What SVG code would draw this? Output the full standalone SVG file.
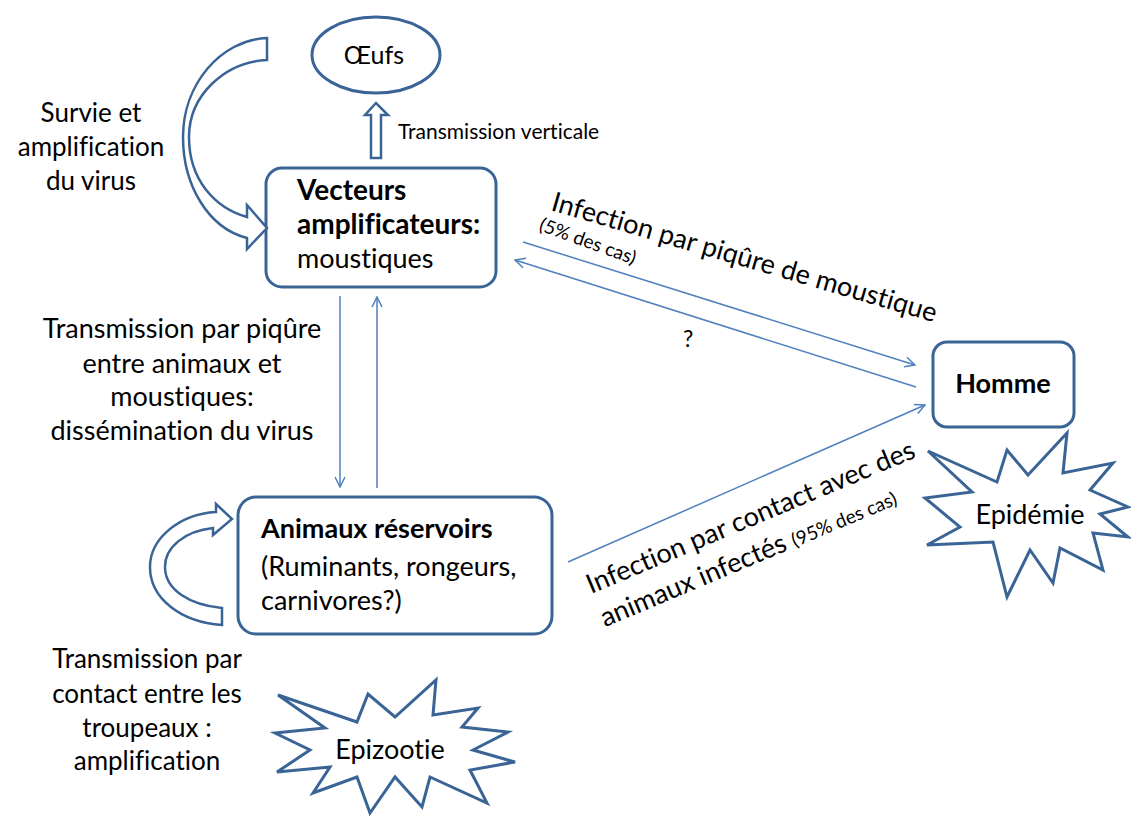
<svg xmlns="http://www.w3.org/2000/svg" width="1131" height="816" viewBox="0 0 1131 816">
<defs>
<style>
text{font-family:Lato,"Open Sans","Liberation Sans",sans-serif;fill:#000;font-variant-ligatures:none}
.t{font-size:27px}
.b{font-size:27px;font-weight:bold}
.s{font-size:19px}
.node{fill:#fff;stroke:#3a6496;stroke-width:3}
.blk{fill:#fff;stroke:#3a6496;stroke-width:2.5;stroke-linejoin:miter}
.con{fill:none;stroke:#4f81bd;stroke-width:1.5}
</style>
<marker id="ah" viewBox="0 0 12 12" refX="11" refY="6" markerWidth="12" markerHeight="12" markerUnits="userSpaceOnUse" orient="auto">
<path d="M1,1 L11,6 L1,11" fill="none" stroke="#4f81bd" stroke-width="1.5"/>
</marker>
</defs>
<rect width="1131" height="816" fill="#fff"/>

<g id="oeufs">
<ellipse class="node" cx="376" cy="55" rx="64" ry="38"/>
<text x="374" y="64" text-anchor="middle" style="font-size:25px">Œufs</text>
</g>

<g id="vecteurs">
<rect class="node" x="266" y="168" width="230" height="119" rx="16"/>
<text class="b" x="297" y="200" style="font-size:28px">Vecteurs</text>
<text class="b" x="297" y="234" style="font-size:28px">amplificateurs:</text>
<text class="t" x="297" y="268">moustiques</text>
</g>

<g id="animaux">
<rect class="node" x="238" y="497" width="314" height="137" rx="18"/>
<text class="b" x="261" y="538">Animaux réservoirs</text>
<text class="t" x="261" y="576">(Ruminants, rongeurs,</text>
<text class="t" x="261" y="610">carnivores?)</text>
</g>

<g id="homme">
<rect class="node" x="933" y="342" width="141" height="85" rx="14"/>
<text class="b" x="1003" y="393" text-anchor="middle">Homme</text>
</g>

<g id="epidemie">
<polygon class="node" points="928,451 997,482 1007,450 1028,475 1067,433 1063,473 1113,463 1090,490 1128,507 1100,514 1128,537 1093,533 1103,570 1060,548 1053,583 1030,550 1007,597 993,542 927,545 960,527 925,498 972,492"/>
<text class="t" x="1030" y="524" text-anchor="middle">Epidémie</text>
</g>

<g id="epizootie">
<polygon class="node" points="278,695 357,722 368,694 395,717 436,680 433,715 478,708 462,727 508,732 473,750 515,762 470,770 487,803 430,777 422,807 395,777 370,813 357,777 313,793 330,767 277,772 310,750 275,733 325,728"/>
<text class="t" x="390" y="759" text-anchor="middle">Epizootie</text>
</g>

<g id="boucle-vecteurs">
<path class="blk" d="M267,38 L267,60 C225,62 189,95 189,137 C189,180 215,208 247,217 L247,205 L267,228 L247,249 L247,238 C208,228 183,185 183,137 C183,85 220,40 267,38 Z"/>
</g>

<g id="boucle-animaux">
<path class="blk" d="M222,608 L222,625 C180,622 150,598 150,567 C150,538 180,514 216,512 L216,504 L232,519 L213,535 L213,528 C185,531 165,547 165,567 C165,590 190,605 222,608 Z"/>
</g>

<g id="fleche-verticale">
<path class="blk" d="M371,158 L371,115 L365,115 L376,103 L388,115 L381,115 L381,158 Z" stroke-width="2"/>
</g>

<g id="connecteurs">
<line class="con" x1="340" y1="296" x2="340" y2="487" marker-end="url(#ah)"/>
<line class="con" x1="377" y1="488" x2="377" y2="297" marker-end="url(#ah)"/>
<line class="con" x1="523" y1="242" x2="915" y2="365" marker-end="url(#ah)"/>
<line class="con" x1="916" y1="387" x2="515" y2="260" marker-end="url(#ah)"/>
<line class="con" x1="568" y1="562" x2="925" y2="405" marker-end="url(#ah)"/>
</g>

<g id="labels">
<text style="font-size:26px" text-anchor="middle"><tspan x="91" y="122">Survie et</tspan><tspan x="91" y="156">amplification</tspan><tspan x="91" y="190">du virus</tspan></text>
<text style="font-size:21px" x="398" y="139">Transmission verticale</text>
<text class="t" text-anchor="middle"><tspan x="182" y="338">Transmission par piqûre</tspan><tspan x="182" y="373">entre animaux et</tspan><tspan x="182" y="406">moustiques:</tspan><tspan x="182" y="440">dissémination du virus</tspan></text>
<text style="font-size:26px" text-anchor="middle"><tspan x="147" y="668">Transmission par</tspan><tspan x="147" y="703">contact entre les</tspan><tspan x="147" y="737">troupeaux :</tspan><tspan x="147" y="770">amplification</tspan></text>
<text class="t" transform="translate(550,210) rotate(16.3)">Infection par piqûre de moustique</text>
<text class="s" transform="translate(538,230) rotate(20)">(5% des cas)</text>
<text style="font-size:23px" x="683" y="347">?</text>
<text class="t" transform="translate(591,594) rotate(-22.8)"><tspan x="0" y="0">Infection par contact avec des</tspan><tspan x="0" y="36">animaux infectés </tspan><tspan style="font-size:19px">(95% des cas)</tspan></text>
</g>
</svg>
